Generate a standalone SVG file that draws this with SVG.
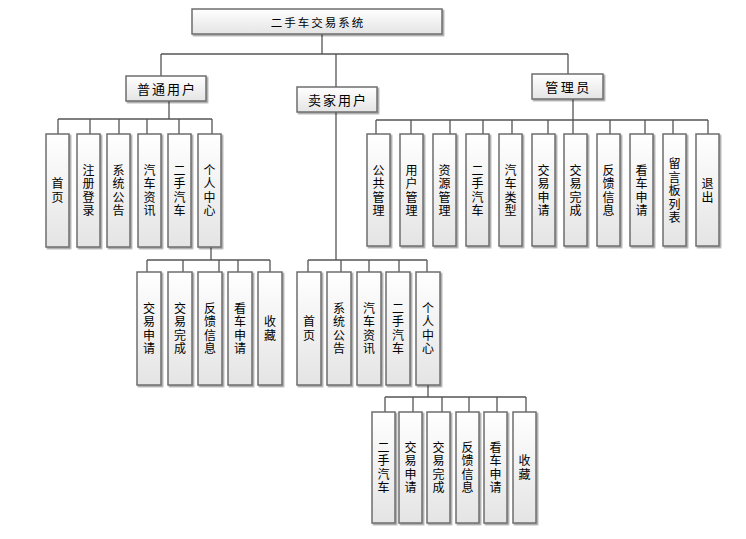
<svg xmlns="http://www.w3.org/2000/svg" width="746" height="539" viewBox="0 0 746 539">
<defs>
<linearGradient id="g" x1="0" y1="0" x2="0" y2="1">
<stop offset="0" stop-color="#ffffff"/>
<stop offset="1" stop-color="#e4e4e4"/>
</linearGradient>
<filter id="sh" x="-20%" y="-20%" width="150%" height="150%">
<feDropShadow dx="1.5" dy="1.5" stdDeviation="0.6" flood-color="#000" flood-opacity="0.35"/>
</filter>
</defs>
<style>
.box{fill:url(#g);stroke:#6e6e6e;stroke-width:1.5;filter:url(#sh)}
.t{font-family:"Noto Sans CJK SC","Noto Sans CJK JP",sans-serif;font-size:12px;fill:#000;text-anchor:middle;dominant-baseline:central}
.h{font-size:13px;letter-spacing:2px}
.v{writing-mode:vertical-rl;letter-spacing:1.5px}
.c{fill:none;stroke:#555;stroke-width:1.3}
</style>
<rect width="746" height="539" fill="#fff"/>
<g id="connectors" class="c">
<path d="M322 34V54M161 54H568M161 54V76M336 54V87M568 54V74"/>
<path d="M169 101V119M58 119H212M58 119V134M90 119V134M119 119V134M147 119V134M179 119V134M212 119V134"/>
<path d="M211 247V260M147 260H270M147 260V272M183 260V272M219 260V272M238 260V272M270 260V272"/>
<path d="M336 112V260M308 260H427M308 260V272M341 260V272M369 260V272M399 260V272M427 260V272"/>
<path d="M428 385V397M385 397H526M385 397V412M413 397V412M442 397V412M469 397V412M497 397V412M526 397V412"/>
<path d="M573 99V120M376 120H708M376 120V134M411 120V134M450 120V134M483 120V134M512 120V134M548 120V134M573 120V134M610 120V134M645 120V134M673 120V134M708 120V134"/>
</g>
<g id="root"><rect class="box" x="192" y="9" width="250" height="25"/><text class="t" x="318" y="21.5" style="font-size:11.5px;letter-spacing:2px">二手车交易系统</text></g>
<g id="user"><rect class="box" x="126" y="76" width="80" height="25"/><text class="t h" x="167" y="88.5">普通用户</text></g>
<g id="seller"><rect class="box" x="297" y="87" width="80" height="25"/><text class="t h" x="338" y="99.5">卖家用户</text></g>
<g id="admin"><rect class="box" x="532" y="74" width="71" height="25"/><text class="t h" x="568.5" y="86.5" style="letter-spacing:2.5px">管理员</text></g>

<g id="u1"><rect class="box" x="46" y="134" width="23" height="113"/><text class="t v" x="57.5" y="191.25">首页</text></g>
<g id="u2"><rect class="box" x="77" y="134" width="23" height="113"/><text class="t v" x="88.5" y="191.25">注册登录</text></g>
<g id="u3"><rect class="box" x="107" y="134" width="23" height="113"/><text class="t v" x="118.5" y="191.25">系统公告</text></g>
<g id="u4"><rect class="box" x="138" y="134" width="23" height="113"/><text class="t v" x="149.5" y="191.25">汽车资讯</text></g>
<g id="u5"><rect class="box" x="168" y="134" width="23" height="113"/><text class="t v" x="179.5" y="191.25">二手汽车</text></g>
<g id="u6"><rect class="box" x="198" y="134" width="23" height="113"/><text class="t v" x="209.5" y="191.25">个人中心</text></g>

<g id="up1"><rect class="box" x="137" y="272" width="24" height="113"/><text class="t v" x="149" y="329.25">交易申请</text></g>
<g id="up2"><rect class="box" x="168" y="272" width="24" height="113"/><text class="t v" x="180" y="329.25">交易完成</text></g>
<g id="up3"><rect class="box" x="198" y="272" width="24" height="113"/><text class="t v" x="210" y="329.25">反馈信息</text></g>
<g id="up4"><rect class="box" x="228" y="272" width="24" height="113"/><text class="t v" x="240" y="329.25">看车申请</text></g>
<g id="up5"><rect class="box" x="258" y="272" width="24" height="113"/><text class="t v" x="270" y="329.25">收藏</text></g>

<g id="s1"><rect class="box" x="297" y="272" width="24" height="113"/><text class="t v" x="309" y="329.25">首页</text></g>
<g id="s2"><rect class="box" x="327" y="272" width="24" height="113"/><text class="t v" x="339" y="329.25">系统公告</text></g>
<g id="s3"><rect class="box" x="357" y="272" width="24" height="113"/><text class="t v" x="369" y="329.25">汽车资讯</text></g>
<g id="s4"><rect class="box" x="386" y="272" width="24" height="113"/><text class="t v" x="398" y="329.25">二手汽车</text></g>
<g id="s5"><rect class="box" x="416" y="272" width="24" height="113"/><text class="t v" x="428" y="329.25">个人中心</text></g>

<g id="sp1"><rect class="box" x="372" y="412" width="23" height="111"/><text class="t v" x="383.5" y="468.25">二手汽车</text></g>
<g id="sp2"><rect class="box" x="399" y="412" width="23" height="111"/><text class="t v" x="410.5" y="468.25">交易申请</text></g>
<g id="sp3"><rect class="box" x="427" y="412" width="23" height="111"/><text class="t v" x="438.5" y="468.25">交易完成</text></g>
<g id="sp4"><rect class="box" x="456" y="412" width="23" height="111"/><text class="t v" x="467.5" y="468.25">反馈信息</text></g>
<g id="sp5"><rect class="box" x="484" y="412" width="23" height="111"/><text class="t v" x="495.5" y="468.25">看车申请</text></g>
<g id="sp6"><rect class="box" x="513" y="412" width="23" height="111"/><text class="t v" x="524.5" y="468.25">收藏</text></g>

<g id="a1"><rect class="box" x="367" y="134" width="23" height="112"/><text class="t v" x="378.5" y="191.25">公共管理</text></g>
<g id="a2"><rect class="box" x="400" y="134" width="23" height="112"/><text class="t v" x="411.5" y="191.25">用户管理</text></g>
<g id="a3"><rect class="box" x="433" y="134" width="23" height="112"/><text class="t v" x="444.5" y="191.25">资源管理</text></g>
<g id="a4"><rect class="box" x="466" y="134" width="23" height="112"/><text class="t v" x="477.5" y="191.25">二手汽车</text></g>
<g id="a5"><rect class="box" x="499" y="134" width="23" height="112"/><text class="t v" x="510.5" y="191.25">汽车类型</text></g>
<g id="a6"><rect class="box" x="532" y="134" width="23" height="112"/><text class="t v" x="543.5" y="191.25">交易申请</text></g>
<g id="a7"><rect class="box" x="564" y="134" width="23" height="112"/><text class="t v" x="575.5" y="191.25">交易完成</text></g>
<g id="a8"><rect class="box" x="597" y="134" width="23" height="112"/><text class="t v" x="608.5" y="191.25">反馈信息</text></g>
<g id="a9"><rect class="box" x="630" y="134" width="23" height="112"/><text class="t v" x="641.5" y="191.25">看车申请</text></g>
<g id="a10"><rect class="box" x="663" y="134" width="23" height="112"/><text class="t v" x="674.5" y="191.25">留言板列表</text></g>
<g id="a11"><rect class="box" x="696" y="134" width="23" height="112"/><text class="t v" x="707.5" y="191.25">退出</text></g>
</svg>
